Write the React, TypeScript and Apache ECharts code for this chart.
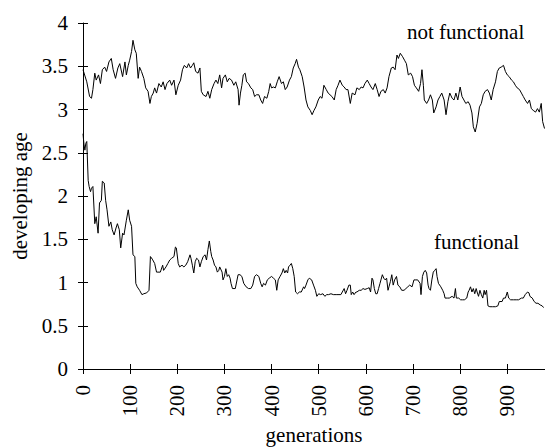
import React, { useEffect, useRef } from "react";
import * as echarts from "echarts";

const notFunctionalGen = [0, 8, 14, 18, 21, 25, 28, 33, 37, 41, 46, 50, 55, 60, 64, 69, 74, 78, 84, 89, 92, 96, 99, 103, 106, 110, 113, 117, 120, 124, 129, 133, 138, 142, 145, 149, 152, 156, 161, 166, 170, 174, 178, 184, 188, 193, 197, 202, 207, 211, 215, 220, 224, 228, 232, 235, 239, 244, 248, 251, 255, 261, 265, 269, 273, 278, 282, 286, 290, 294, 297, 302, 306, 310, 315, 320, 324, 329, 331, 334, 337, 340, 344, 347, 351, 356, 360, 364, 368, 373, 377, 381, 385, 390, 394, 397, 400, 404, 408, 412, 416, 421, 425, 429, 433, 438, 442, 446, 450, 453, 457, 460, 465, 469, 473, 477, 482, 486, 490, 494, 499, 503, 507, 511, 516, 520, 524, 528, 533, 537, 541, 545, 550, 554, 558, 562, 567, 571, 577, 581, 586, 590, 594, 598, 603, 607, 611, 615, 620, 624, 628, 632, 637, 641, 645, 649, 654, 658, 662, 666, 669, 673, 678, 682, 686, 690, 695, 699, 703, 707, 712, 716, 719, 722, 724, 729, 733, 737, 741, 744, 749, 753, 757, 761, 766, 770, 774, 778, 783, 787, 791, 795, 800, 804, 808, 812, 817, 821, 825, 828, 832, 836, 841, 845, 849, 853, 858, 862, 866, 870, 875, 879, 883, 887, 892, 896, 900, 904, 909, 913, 917, 921, 926, 930, 934, 938, 943, 947, 951, 955, 960, 964, 968, 972, 975, 979];
const notFunctionalAge = [3.46, 3.32, 3.15, 3.13, 3.23, 3.42, 3.34, 3.40, 3.30, 3.46, 3.49, 3.44, 3.55, 3.59, 3.46, 3.36, 3.48, 3.53, 3.38, 3.55, 3.40, 3.51, 3.57, 3.67, 3.80, 3.69, 3.65, 3.36, 3.49, 3.44, 3.36, 3.25, 3.21, 3.07, 3.15, 3.19, 3.25, 3.19, 3.30, 3.26, 3.32, 3.23, 3.30, 3.34, 3.28, 3.34, 3.17, 3.28, 3.34, 3.46, 3.51, 3.48, 3.53, 3.48, 3.51, 3.54, 3.44, 3.42, 3.48, 3.21, 3.17, 3.15, 3.21, 3.13, 3.23, 3.30, 3.34, 3.30, 3.40, 3.25, 3.36, 3.40, 3.32, 3.36, 3.34, 3.28, 3.32, 3.23, 3.05, 3.19, 3.28, 3.40, 3.42, 3.32, 3.30, 3.25, 3.23, 3.15, 3.17, 3.17, 3.11, 3.07, 3.15, 3.13, 3.21, 3.30, 3.25, 3.26, 3.25, 3.32, 3.38, 3.30, 3.32, 3.23, 3.26, 3.34, 3.38, 3.48, 3.53, 3.58, 3.49, 3.46, 3.38, 3.26, 3.11, 3.03, 2.99, 2.94, 2.99, 3.03, 3.11, 3.15, 3.13, 3.28, 3.23, 3.19, 3.17, 3.15, 3.11, 3.23, 3.28, 3.34, 3.28, 3.26, 3.23, 3.23, 3.07, 3.19, 3.17, 3.25, 3.23, 3.26, 3.25, 3.30, 3.34, 3.30, 3.26, 3.23, 3.30, 3.23, 3.15, 3.21, 3.23, 3.19, 3.25, 3.38, 3.48, 3.49, 3.46, 3.63, 3.59, 3.65, 3.61, 3.57, 3.53, 3.40, 3.42, 3.38, 3.28, 3.25, 3.21, 3.30, 3.46, 3.28, 3.11, 3.07, 3.11, 3.17, 3.11, 2.96, 3.03, 3.11, 3.15, 3.19, 3.11, 2.94, 3.09, 3.19, 3.13, 3.11, 3.19, 3.11, 3.26, 3.15, 3.11, 3.07, 3.09, 3.05, 2.96, 2.80, 2.74, 2.84, 3.03, 3.07, 3.17, 3.21, 3.23, 3.19, 3.11, 3.23, 3.32, 3.44, 3.48, 3.49, 3.51, 3.44, 3.40, 3.38, 3.34, 3.32, 3.28, 3.25, 3.23, 3.19, 3.15, 3.11, 3.07, 3.11, 3.01, 2.99, 2.97, 3.01, 2.97, 3.07, 2.86, 2.78];

const functionalGen = [0, 2, 4, 6, 8, 11, 13, 16, 18, 21, 25, 28, 32, 35, 39, 41, 45, 48, 51, 55, 59, 62, 66, 70, 73, 77, 80, 84, 87, 92, 96, 99, 103, 106, 110, 112, 115, 120, 125, 129, 135, 140, 143, 147, 152, 156, 159, 164, 169, 171, 176, 180, 184, 188, 193, 196, 198, 202, 205, 210, 214, 218, 222, 227, 229, 232, 235, 238, 241, 245, 248, 251, 255, 259, 262, 265, 268, 271, 273, 276, 279, 282, 285, 288, 290, 295, 297, 300, 303, 306, 309, 312, 314, 317, 323, 329, 333, 337, 341, 346, 351, 356, 360, 364, 368, 373, 377, 380, 383, 387, 391, 395, 400, 404, 408, 411, 414, 418, 422, 425, 428, 431, 434, 436, 439, 442, 445, 448, 451, 455, 459, 463, 468, 470, 473, 477, 480, 485, 489, 493, 496, 500, 504, 509, 513, 517, 521, 526, 531, 537, 543, 547, 550, 554, 557, 560, 564, 567, 569, 572, 575, 579, 581, 586, 590, 594, 598, 603, 607, 610, 613, 615, 618, 621, 624, 627, 630, 632, 635, 638, 641, 644, 647, 649, 652, 655, 658, 661, 665, 668, 672, 676, 681, 685, 689, 693, 698, 702, 706, 710, 715, 717, 720, 723, 726, 729, 732, 734, 737, 740, 743, 746, 749, 751, 754, 759, 763, 766, 768, 773, 777, 783, 787, 790, 792, 797, 801, 805, 809, 814, 817, 819, 822, 825, 828, 831, 834, 836, 839, 842, 845, 848, 851, 853, 856, 859, 863, 869, 875, 880, 883, 889, 892, 896, 900, 903, 907, 913, 919, 924, 930, 934, 938, 943, 946, 948, 953, 957, 961, 965, 970, 974, 977];
const functionalAge = [2.72, 2.60, 2.53, 2.61, 2.63, 2.18, 2.11, 2.05, 2.09, 2.11, 1.68, 1.76, 1.57, 1.92, 1.95, 2.17, 2.15, 1.95, 1.84, 1.65, 1.70, 1.61, 1.55, 1.63, 1.68, 1.61, 1.40, 1.57, 1.55, 1.72, 1.84, 1.72, 1.65, 1.32, 1.30, 0.99, 0.95, 0.91, 0.86, 0.87, 0.88, 0.91, 1.30, 1.27, 1.22, 1.12, 1.12, 1.12, 1.20, 1.14, 1.18, 1.22, 1.26, 1.28, 1.30, 1.41, 1.40, 1.22, 1.18, 1.20, 1.18, 1.20, 1.24, 1.32, 1.28, 1.20, 1.11, 1.24, 1.28, 1.26, 1.18, 1.24, 1.30, 1.32, 1.26, 1.38, 1.48, 1.36, 1.30, 1.26, 1.20, 1.18, 1.12, 1.14, 1.18, 1.12, 1.03, 1.07, 1.16, 1.07, 1.09, 1.05, 0.99, 0.93, 0.93, 1.09, 1.09, 1.07, 0.99, 0.95, 0.93, 0.93, 0.97, 1.07, 1.09, 1.07, 0.99, 0.95, 0.99, 0.97, 1.03, 1.05, 1.07, 1.05, 1.03, 0.91, 1.03, 1.07, 1.11, 1.16, 1.11, 1.14, 1.11, 1.18, 1.20, 1.22, 1.16, 1.07, 0.89, 0.87, 0.89, 0.89, 0.95, 0.93, 0.97, 1.03, 1.05, 1.03, 0.97, 0.91, 0.84, 0.87, 0.86, 0.87, 0.84, 0.86, 0.86, 0.87, 0.86, 0.86, 0.86, 0.86, 0.89, 0.93, 0.87, 0.91, 0.97, 0.97, 0.86, 0.89, 0.86, 0.89, 0.89, 0.91, 0.91, 0.93, 0.92, 0.93, 0.94, 0.89, 1.05, 1.03, 0.93, 0.87, 0.87, 0.93, 0.99, 1.03, 1.09, 1.05, 1.03, 1.05, 0.91, 0.95, 1.01, 1.09, 0.97, 1.03, 1.07, 0.97, 0.95, 0.91, 0.91, 0.93, 0.95, 0.97, 0.95, 1.03, 1.03, 1.03, 0.99, 0.86, 1.07, 1.12, 1.14, 1.11, 0.97, 0.93, 0.91, 1.03, 1.12, 1.14, 1.16, 1.07, 0.99, 0.95, 0.91, 0.87, 0.82, 0.82, 0.82, 0.84, 0.82, 0.93, 0.82, 0.82, 0.80, 0.80, 0.80, 0.82, 0.89, 0.91, 0.95, 0.89, 0.93, 0.87, 0.93, 0.89, 0.84, 0.91, 0.86, 0.82, 0.91, 0.86, 0.91, 0.73, 0.72, 0.72, 0.72, 0.73, 0.78, 0.78, 0.82, 0.82, 0.89, 0.82, 0.80, 0.80, 0.80, 0.80, 0.82, 0.82, 0.86, 0.89, 0.88, 0.84, 0.82, 0.78, 0.76, 0.76, 0.74, 0.73, 0.71];

const xTickValues = [0, 100, 200, 300, 400, 500, 600, 700, 800, 900];
const xMin = 0;
const xMax = 980;
const yMin = 0;
const yMax = 4;
const yStep = 0.5;

const seriesLabels = ["not functional", "functional"];
const xTitle = "generations";
const yTitle = "developing age";

const FAMILY = "Liberation Serif";
const FONT_SIZE = 21;

function zip(xs: number[], ys: number[]) {
  return xs.map((x, i) => [x, ys[i]]);
}

export default function App() {
  const ref = useRef<HTMLDivElement>(null);
  useEffect(() => {
    if (!ref.current) return;
    const chart = echarts.init(ref.current, null, { renderer: "svg" });
    const black = "#000";
    const txt = { color: black, fontFamily: FAMILY, fontSize: FONT_SIZE };
    chart.setOption({
      animation: false,
      backgroundColor: "#fff",
      textStyle: { fontFamily: FAMILY, fontSize: FONT_SIZE, color: black },
      grid: { left: 83, top: 23, right: 0, bottom: 78, containLabel: false, outerBoundsMode: "none" },
      xAxis: [
        {
          type: "value",
          min: xMin,
          max: xMax,
          interval: 100,
          axisLine: { show: true, lineStyle: { color: black, width: 1 } },
          axisTick: { show: true, length: 5, customValues: xTickValues, lineStyle: { color: black } },
          axisLabel: { rotate: 90, margin: 16, ...txt, customValues: xTickValues },
          splitLine: { show: false },
          name: xTitle,
          nameLocation: "middle",
          nameGap: 55,
          nameTextStyle: txt,
        },
        {
          type: "value",
          position: "bottom",
          min: xMin,
          max: xMax,
          interval: 100,
          axisLine: { show: false },
          axisTick: { show: true, inside: true, length: 5, customValues: xTickValues, lineStyle: { color: black } },
          axisLabel: { show: false },
          splitLine: { show: false },
        },
      ],
      yAxis: [
        {
          type: "value",
          min: yMin,
          max: yMax,
          interval: yStep,
          axisLine: { show: true, lineStyle: { color: black, width: 1 } },
          axisTick: { show: true, length: 5, lineStyle: { color: black } },
          axisLabel: { margin: 15, ...txt },
          splitLine: { show: false },
          name: yTitle,
          nameLocation: "middle",
          nameGap: 53,
          nameRotate: 90,
          nameTextStyle: txt,
        },
        {
          type: "value",
          position: "left",
          min: yMin,
          max: yMax,
          interval: yStep,
          axisLine: { show: false },
          axisTick: { show: true, inside: true, length: 5, lineStyle: { color: black } },
          axisLabel: { show: false },
          splitLine: { show: false },
        },
      ],
      graphic: [
        {
          type: "text",
          left: 407,
          top: 21,
          style: { text: seriesLabels[0], fill: black, font: `${FONT_SIZE}px ${FAMILY}` },
        },
        {
          type: "text",
          left: 434,
          top: 231,
          style: { text: seriesLabels[1], fill: black, font: `${FONT_SIZE}px ${FAMILY}` },
        },
      ],
      series: [
        {
          name: seriesLabels[0],
          type: "line",
          xAxisIndex: 0,
          yAxisIndex: 0,
          data: zip(notFunctionalGen, notFunctionalAge),
          symbol: "none",
          lineStyle: { color: black, width: 1 },
        },
        {
          name: seriesLabels[1],
          type: "line",
          xAxisIndex: 0,
          yAxisIndex: 0,
          data: zip(functionalGen, functionalAge),
          symbol: "none",
          lineStyle: { color: black, width: 1 },
        },
      ],
    });
    return () => chart.dispose();
  }, []);
  return (
    <div
      ref={ref}
      style={{ position: "absolute", left: 0, top: 0, width: 545, height: 447, background: "#fff" }}
    />
  );
}
